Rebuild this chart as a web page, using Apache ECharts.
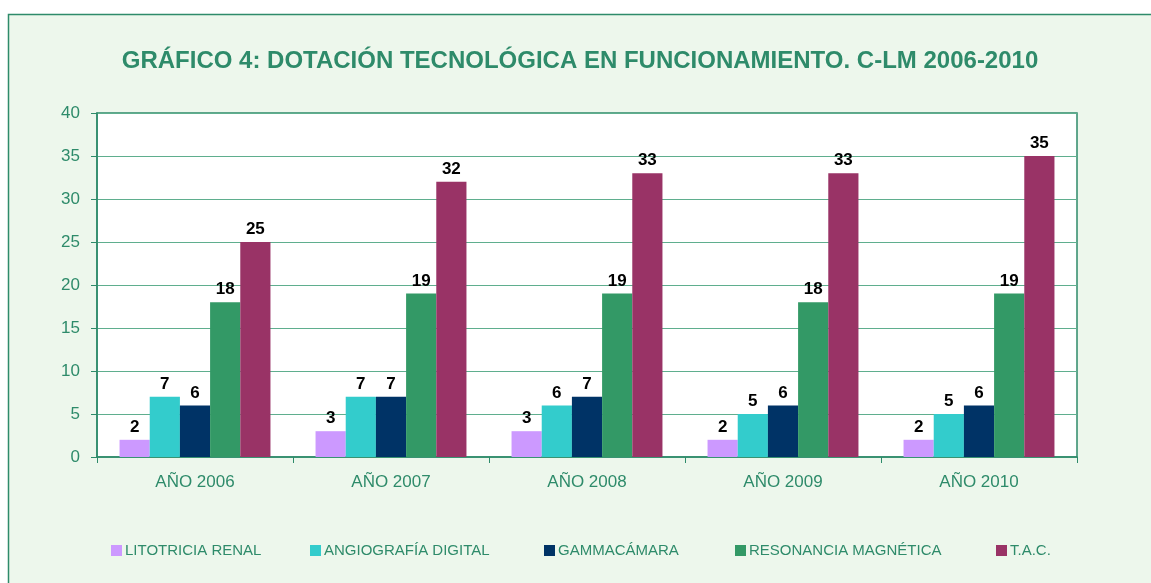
<!DOCTYPE html>
<html>
<head>
<meta charset="utf-8">
<script src="https://cdn.jsdelivr.net/npm/echarts@6/dist/echarts.min.js"></script>
<style>
  html, body { margin: 0; padding: 0; background: #fff; }
  #chart { width: 1151px; height: 583px; }
</style>
</head>
<body>
<div id="chart"></div>
<script>
// datos del gráfico
const years = ['AÑO 2006', 'AÑO 2007', 'AÑO 2008', 'AÑO 2009', 'AÑO 2010']
const seriesNames = ['LITOTRICIA RENAL', 'ANGIOGRAFÍA DIGITAL', 'GAMMACÁMARA', 'RESONANCIA MAGNÉTICA', 'T.A.C.']
const litotricia = [2, 3, 3, 2, 2]
const angiografia = [7, 7, 6, 5, 5]
const gammacamara = [6, 7, 7, 6, 6]
const resonancia = [18, 19, 19, 18, 19]
const tac = [25, 32, 33, 33, 35]
const yTicks = [0, 5, 10, 15, 20, 25, 30, 35, 40]

const colors = ['#CC99FF', '#33CCCC', '#003366', '#339966', '#993366']
const green = '#2E8B6A'
const font = 'Liberation Sans, Arial, sans-serif'

const chart = echarts.init(document.getElementById('chart'))

const values = [litotricia, angiografia, gammacamara, resonancia, tac]
const series = seriesNames.map((name, i) => ({
  name: name,
  type: 'bar',
  data: values[i],
  barGap: '0%',
  barCategoryGap: '23%',
  itemStyle: { color: colors[i] },
  label: {
    show: true,
    position: 'top',
    distance: 4,
    color: '#000',
    fontWeight: 'bold',
    fontSize: 17,
    fontFamily: font
  }
}))

// una leyenda por serie para fijar su posición
const legendLeft = [106, 305, 539, 730, 991]
const legends = seriesNames.map((name, i) => ({
  data: [name],
  left: legendLeft[i],
  top: 538,
  itemWidth: 11,
  itemHeight: 11,
  icon: 'rect',
  itemGap: 6,
  textStyle: { color: green, fontSize: 15, fontFamily: font, padding: [0, 0, 0, -2] }
}))

const option = {
  animation: false,
  graphic: [{
    type: 'rect',
    shape: { x: 8.5, y: 14.5, width: 1200, height: 600 },
    style: { fill: '#EDF7EC', stroke: green, lineWidth: 1.5 },
    z: -10
  }],
  title: {
    text: 'GRÁFICO 4: DOTACIÓN TECNOLÓGICA EN FUNCIONAMIENTO. C-LM 2006-2010',
    left: 575,
    textAlign: 'center',
    top: 44,
    textStyle: { color: green, fontSize: 24, fontWeight: 'bold', fontFamily: font }
  },
  legend: legends,
  grid: {
    left: 97,
    top: 113,
    right: 74,
    bottom: 126,
    show: true,
    backgroundColor: '#fff',
    borderColor: green,
    borderWidth: 1.5
  },
  xAxis: {
    type: 'category',
    data: years,
    axisLine: { lineStyle: { color: green, width: 1.5 } },
    axisTick: { show: true, length: 6, lineStyle: { color: green } },
    axisLabel: { color: green, fontSize: 17, fontFamily: font, margin: 17 }
  },
  yAxis: {
    type: 'value',
    min: yTicks[0],
    max: yTicks[yTicks.length - 1],
    interval: 5,
    axisLine: { show: true, lineStyle: { color: green, width: 1.5 } },
    axisTick: { show: true, length: 6, lineStyle: { color: green } },
    axisLabel: { color: green, fontSize: 17, fontFamily: font, margin: 17 },
    splitLine: { lineStyle: { color: '#5FAE8E', width: 1 } }
  },
  series: series
}

chart.setOption(option)
</script>
</body>
</html>
